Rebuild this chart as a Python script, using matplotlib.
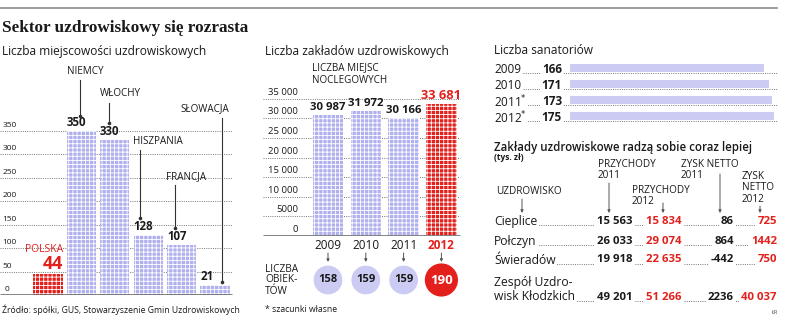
import matplotlib.pyplot as plt

W, H = 788, 323
plt.rcParams['font.family'] = ['Open Sans', 'DejaVu Sans']
plt.rcParams['hatch.linewidth'] = 0.6

LAV = '#b0b0ee'
LAV_SOLID = '#cbcbf4'
RED = '#e3201c'
DARK = '#1a1a1a'

# --- Liczba miejscowości uzdrowiskowych ---
countries = ['POLSKA', 'NIEMCY', 'WŁOCHY', 'HISZPANIA', 'FRANCJA', 'SŁOWACJA']
resorts = [44, 350, 330, 128, 107, 21]
resort_ticks = [0, 50, 100, 150, 200, 250, 300, 350]

# --- Liczba zakładów uzdrowiskowych ---
years = ['2009', '2010', '2011', '2012']
beds = [30987, 31972, 30166, 33681]
bed_ticks = [0, 5000, 10000, 15000, 20000, 25000, 30000, 35000]
objects = [158, 159, 159, 190]

# --- Liczba sanatoriów ---
san_years = ['2009', '2010', '2011$^{*}$', '2012$^{*}$']
sanatoria = [166, 171, 173, 175]

# --- tabela (tys. zł) ---
spas = ['Cieplice', 'Połczyn', 'Świeradów', 'Zespół Uzdro-\nwisk Kłodzkich']
rev_2011 = [15563, 26033, 19918, 49201]
rev_2012 = [15834, 29074, 22635, 51266]
net_2011 = [86, 864, -442, 2236]
net_2012 = [725, 1442, 750, 40037]


def fmt(v):
    if abs(v) >= 10000:
        return f'{v:,}'.replace(',', ' ')
    return str(v)


def axes_px(x0, y0, x1, y1):
    a = fig.add_axes([x0 / W, 1 - y1 / H, (x1 - x0) / W, (y1 - y0) / H])
    a.axis('off')
    return a


fig = plt.figure(figsize=(W / 100, H / 100), dpi=100)

# overlay in pixel coordinates for titles / labels
ov = fig.add_axes([0, 0, 1, 1], zorder=10)
ov.set_xlim(0, W)
ov.set_ylim(H, 0)
ov.axis('off')

ov.plot([0, 777], [7.5, 7.5], color='#8a8a8a', lw=1.2)
ov.text(2, 28, 'Sektor uzdrowiskowy się rozrasta', family='Liberation Serif',
        weight='bold', fontsize=12.3, va='center', color=DARK)
ov.text(2, 52, 'Liczba miejscowości uzdrowiskowych', fontsize=8.6, va='center', color=DARK)
ov.text(265, 52, 'Liczba zakładów uzdrowiskowych', fontsize=8.6, va='center', color=DARK)
ov.text(494, 50, 'Liczba sanatoriów', fontsize=8.6, va='center', color=DARK)
ov.text(2, 310, 'Źródło: spółki, GUS, Stowarzyszenie Gmin Uzdrowiskowych',
        fontsize=6.2, va='center', color=DARK)
ov.text(265, 310, '* szacunki własne', fontsize=6.2, va='center', color=DARK)
ov.text(772, 312, 'ŁR', fontsize=4, va='center', color='#444')

# ---------------- left chart ----------------
step, c0 = 33.4, 48
axL = axes_px(0, 60, 235, 295)
xlo, xhi = -c0 / step, (235 - c0) / step
xg = (232 - c0) / step
axL.set_xlim(xlo, xhi)
axL.set_ylim(0, 500)
xs = range(len(resorts))
axL.bar(xs, resorts, width=0.87, color=[RED] + [LAV] * 5, edgecolor='white',
        lw=0, hatch='++++', zorder=2)
for t in resort_ticks[1:]:
    axL.plot([xlo, xg], [t, t], ls=(0, (1, 1.3)), color='#777', lw=0.7, zorder=1)
    axL.text(xlo + 0.08, t + 4, str(t), fontsize=6, va='bottom', color=DARK)
axL.text(xlo + 0.15, 4, '0', fontsize=6, va='bottom', color=DARK)
axL.plot([xlo, xg], [0, 0], color='#5e5e5e', lw=1.8, zorder=3, solid_capstyle='butt')
for i, v in enumerate(resorts):
    if i == 0:
        axL.text(i + 0.44, v + 22, str(v), ha='right', va='center', fontsize=13,
                 weight='bold', color=RED)
        axL.text(i + 0.44, v + 52, countries[i], ha='right', va='center', fontsize=7.5,
                 color=RED)
    else:
        axL.text(i - 0.44, v + 4, str(v), ha='left', va='bottom', fontsize=8.3,
                 weight='bold', color=DARK)

# country names with leader lines (pixel positions)
leaders = [(67, 72, 80, 80, 116), (100, 94, 109, 103, 123), (133, 141, 140, 150, 218),
           (166, 177, 175, 185, 228), (180, 109, 222, 118, 282)]
for name, (tx, ty, lx, ly0, ly1) in zip(countries[1:], leaders):
    ov.text(tx, ty, name, fontsize=7.1, va='center', color=DARK)
    ov.plot([lx, lx], [ly0, ly1], color='#333', lw=0.8)
    ov.plot([lx], [ly1], 'o', ms=1.6, color='#333')

# ---------------- middle chart ----------------
stepm, cm = 37.8, 328
pxv = 0.00392
axM = axes_px(262, 60, 470, 236)
mlo, mhi = (262 - cm) / stepm, (470 - cm) / stepm
mg0, mg1 = (263 - cm) / stepm, (460 - cm) / stepm
axM.set_xlim(mlo, mhi)
axM.set_ylim(0, (236 - 60) / pxv)
xm = range(len(beds))
axM.bar(xm, beds, width=0.8, color=[LAV] * 3 + [RED], edgecolor='white', lw=0,
        hatch='++++', zorder=2)
for t in bed_ticks:
    if t > 0:
        axM.plot([mg0, mg1], [t, t], ls=(0, (1, 1.3)), color='#777', lw=0.7, zorder=1)
    axM.text((298 - cm) / stepm, t + 500, fmt(t), ha='right', va='bottom', fontsize=6.8,
             color=DARK)
axM.plot([mg0, mg1], [0, 0], color='#5e5e5e', lw=1.8, zorder=3, solid_capstyle='butt')
for i, v in enumerate(beds):
    red = i == len(beds) - 1
    axM.text(i, v + 500, fmt(v), ha='center', va='bottom', weight='bold',
             fontsize=9.3 if red else 8.2, color=RED if red else DARK)

ov.text(312, 74, 'LICZBA MIEJSC\nNOCLEGOWYCH', fontsize=7.1, va='center',
        linespacing=1.15, color=DARK)

axO = axes_px(262, 240, 470, 300)
axO.set_xlim(mlo, mhi)
axO.set_ylim(60, 0)
sizes = [430] * 3 + [570]
axO.scatter(xm, [40] * 4, s=sizes, c=[LAV_SOLID] * 3 + [RED], linewidths=0, clip_on=False)
for i, (y, n) in enumerate(zip(years, objects)):
    red = i == len(years) - 1
    axO.text(i, 6, y, ha='center', va='center', fontsize=8.5,
             weight='bold' if red else 'normal', color=RED if red else DARK)
    axO.annotate('', xy=(i, 22), xytext=(i, 13),
                 arrowprops=dict(arrowstyle='-|>', color='#555', lw=0.7,
                                 mutation_scale=4, shrinkA=0, shrinkB=0))
    axO.text(i, 40, str(n), ha='center', va='center', fontsize=8 if not red else 9.5,
             weight='bold', color='white' if red else DARK)
ov.text(265, 280, 'LICZBA\nOBIEK-\nTÓW', fontsize=7.3, va='center', linespacing=1.0,
        color=DARK)

# ---------------- sanatoria ----------------
sc = 1.166
axS = axes_px(570, 60, 778, 124)
axS.set_xlim(0, 208 / sc)
axS.set_ylim(3.5, -0.5)
ys = range(len(sanatoria))
axS.barh(ys, sanatoria, height=0.56, color=LAV_SOLID, zorder=2)
for i, (y, v) in enumerate(zip(san_years, sanatoria)):
    axS.plot([(494 - 570) / sc, (777 - 570) / sc], [i + 0.32] * 2, ls=(0, (1, 1.3)),
             color='#777', lw=0.7, zorder=1, clip_on=False)
    axS.text((494 - 570) / sc, i + 0.1, y, va='center', fontsize=8.5, color=DARK,
             bbox=dict(fc='white', ec='none', pad=1), zorder=3, clip_on=False)
    axS.text((562 - 570) / sc, i + 0.1, str(v), ha='right', va='center', fontsize=8.5,
             weight='bold', color=DARK, bbox=dict(fc='white', ec='none', pad=1),
             zorder=3, clip_on=False)

# ---------------- tabela ----------------
ov.text(494, 147, 'Zakłady uzdrowiskowe radzą sobie coraz lepiej', fontsize=8.3,
        weight='semibold', va='center', color=DARK)
ov.text(494, 157, '(tys. zł)', fontsize=6, weight='bold', va='center', color=DARK)
headers = [(598, 170, 'PRZYCHODY\n2011'), (681, 170, 'ZYSK NETTO\n2011'),
           (496, 192, 'UZDROWISKO'), (632, 196, 'PRZYCHODY\n2012'),
           (742, 188, 'ZYSK\nNETTO\n2012')]
for hx, hy, txt in headers:
    ov.text(hx, hy, txt, fontsize=7.2, va='center', linespacing=1.05, color=DARK)
arrows = [(522, 199, 213), (609, 183, 213), (663, 203, 213), (720, 174, 213),
          (760, 206, 213)]
for ax_, a0, a1 in arrows:
    ov.annotate('', xy=(ax_, a1), xytext=(ax_, a0),
                arrowprops=dict(arrowstyle='-|>', color='#555', lw=0.7,
                                mutation_scale=4, shrinkA=0, shrinkB=0))

row_y = [221, 241, 260, 297]
col_x = [633, 682, 734, 777]
col_c = [DARK, RED, DARK, RED]
for r, name in enumerate(spas):
    y = row_y[r]
    ov.plot([494, 777], [y + 4, y + 4], ls=(0, (1, 1.3)), color='#777', lw=0.7, zorder=1)
    ny = y - 7.5 if '\n' in name else y
    ov.text(494, ny, name, fontsize=8.7, va='center', linespacing=1.15, color=DARK,
            bbox=dict(fc='white', ec='none', pad=1), zorder=3)
    for col, cx, cc in zip([rev_2011, rev_2012, net_2011, net_2012], col_x, col_c):
        ov.text(cx, y, fmt(col[r]), ha='right', va='center', fontsize=8.2,
                weight='bold', color=cc, bbox=dict(fc='white', ec='none', pad=1.5),
                zorder=3)

fig.savefig('out.png', dpi=100)
